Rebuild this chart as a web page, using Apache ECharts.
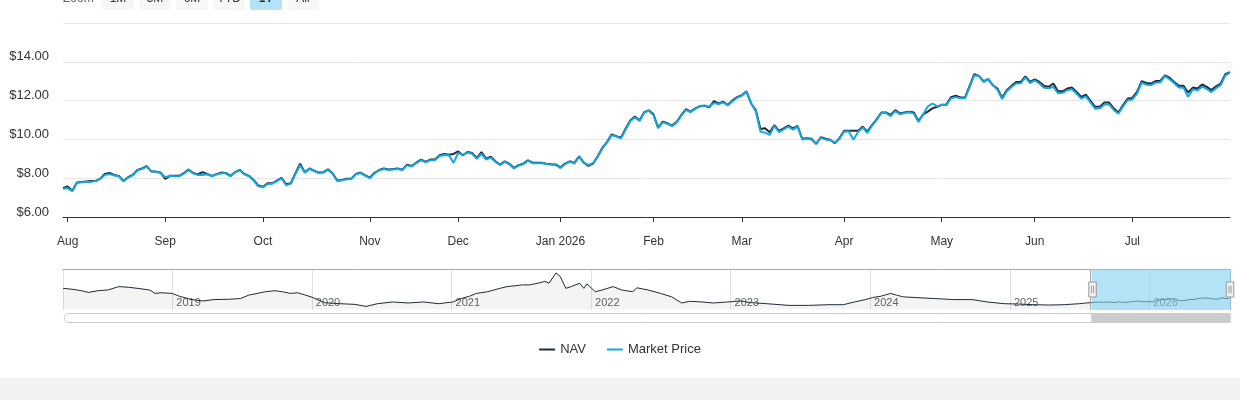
<!DOCTYPE html>
<html>
<head>
<meta charset="utf-8">
<script src="https://cdn.jsdelivr.net/npm/echarts@6.0.0/dist/echarts.min.js"></script>
<style>
html,body{margin:0;padding:0;background:#f2f2f2;}
#chart{width:1240px;height:378px;background:#ffffff;}
</style>
</head>
<body>
<div id="chart"></div>
<script>
// ---------- DATA ----------
const holidays = ['2025-09-01','2025-11-27','2025-12-25','2026-01-01','2026-01-19','2026-02-16','2026-04-03','2026-05-25','2026-06-19','2026-07-03'];
const periodStart = '2025-07-31';
const periodEnd = '2026-07-31';

const navValues = [
7.49,7.57,7.35,7.78,7.81,7.83,7.85,7.85,7.98,8.22,8.27,8.17,8.12,7.86,8.05,8.17,8.43,8.50,8.62,8.34,
8.34,8.29,7.97,8.12,8.12,8.12,8.26,8.44,8.27,8.19,8.31,8.22,8.12,8.21,8.29,8.27,8.12,8.31,8.43,8.22,
8.12,7.91,7.62,7.56,7.74,7.74,7.88,8.02,7.69,7.74,8.26,8.75,8.31,8.50,8.39,8.29,8.31,8.46,8.24,7.88,
7.91,7.97,7.98,8.22,8.29,8.15,8.03,8.28,8.42,8.50,8.45,8.47,8.50,8.44,8.70,8.63,8.80,8.96,8.84,8.96,
8.96,9.18,9.25,9.21,9.25,9.38,9.18,9.35,9.30,9.04,9.35,9.01,9.11,8.87,8.70,8.87,8.75,8.53,8.67,8.75,
8.92,8.80,8.80,8.79,8.75,8.72,8.70,8.56,8.75,8.87,8.79,9.13,8.80,8.63,8.75,9.13,9.56,9.86,10.26,10.17,
10.09,10.55,10.97,11.18,10.97,11.40,11.50,11.29,10.61,10.91,10.83,10.71,10.91,11.26,11.56,11.43,11.60,11.72,11.73,11.65,
11.97,11.85,11.94,11.77,12.01,12.18,12.28,12.48,11.85,11.51,10.54,10.57,10.37,10.74,10.44,10.57,10.71,10.57,10.69,10.03,
10.06,10.03,9.77,10.11,10.03,9.98,9.81,10.06,10.44,10.44,10.44,10.44,10.66,10.40,10.74,11.03,11.39,11.39,11.26,11.51,
11.34,11.39,11.43,11.39,10.95,11.29,11.43,11.60,11.68,11.78,11.80,12.18,12.25,12.16,12.16,12.76,13.36,13.27,13.00,13.10,
12.79,12.62,12.14,12.54,12.76,12.96,12.96,13.25,12.96,13.10,12.96,12.76,12.71,12.88,12.48,12.48,12.62,12.67,12.45,12.19,
12.31,11.99,11.68,11.68,11.90,11.90,11.60,11.38,11.77,12.11,12.14,12.45,13.00,12.91,12.88,13.01,13.01,13.30,13.18,12.96,
12.76,12.76,12.42,12.67,12.62,12.83,12.71,12.54,12.74,12.88,13.36,13.47
];

const priceValues = [
7.45,7.49,7.33,7.76,7.79,7.80,7.81,7.86,7.96,8.17,8.21,8.14,8.10,7.84,8.03,8.15,8.40,8.48,8.60,8.36,
8.33,8.27,8.05,8.13,8.10,8.10,8.24,8.42,8.25,8.17,8.17,8.20,8.10,8.19,8.25,8.25,8.10,8.30,8.41,8.20,
8.10,7.88,7.58,7.53,7.70,7.72,7.85,8.00,7.64,7.72,8.22,8.67,8.28,8.48,8.37,8.26,8.29,8.44,8.22,7.84,
7.89,7.95,7.96,8.20,8.27,8.12,8.00,8.25,8.40,8.47,8.42,8.45,8.47,8.42,8.66,8.60,8.78,8.93,8.82,8.93,
8.93,9.14,9.20,9.18,8.79,9.30,9.20,9.32,9.26,9.00,9.26,8.96,9.06,8.85,8.68,8.84,8.72,8.50,8.65,8.72,
8.90,8.77,8.77,8.77,8.73,8.70,8.68,8.52,8.73,8.85,8.76,9.10,8.80,8.68,8.78,9.10,9.52,9.84,10.22,10.15,
10.05,10.50,10.93,11.14,10.95,11.38,11.48,11.25,10.58,10.88,10.80,10.68,10.88,11.22,11.52,11.40,11.58,11.70,11.75,11.68,
11.88,11.82,11.90,11.75,11.97,12.15,12.25,12.46,11.88,11.45,10.40,10.35,10.23,10.70,10.38,10.52,10.66,10.50,10.66,10.00,
10.03,10.00,9.78,10.08,10.00,9.96,9.84,10.02,10.40,10.42,9.98,10.38,10.62,10.33,10.70,11.00,11.36,11.37,11.20,11.46,
11.30,11.36,11.40,11.33,10.90,11.29,11.70,11.85,11.70,11.78,11.76,12.12,12.18,12.12,12.12,12.70,13.30,13.28,12.95,13.12,
12.80,12.55,12.08,12.48,12.70,12.88,12.90,13.18,12.90,13.04,12.88,12.66,12.64,12.70,12.38,12.40,12.54,12.58,12.36,12.10,
12.22,11.90,11.58,11.60,11.80,11.80,11.52,11.32,11.70,12.02,12.06,12.36,12.92,12.82,12.80,12.92,12.94,13.26,13.10,12.90,
12.68,12.66,12.20,12.58,12.52,12.72,12.60,12.44,12.64,12.80,13.30,13.44
];

// Long history of NAV shown in the navigator (before the 1Y window)
const navHistDates = [
'2018-03-21','2018-04-16','2018-05-08','2018-05-27','2018-06-21','2018-07-16','2018-08-14','2018-09-09','2018-10-01','2018-11-03',
'2018-11-17','2018-12-02','2019-01-01','2019-01-19','2019-02-21','2019-03-22','2019-04-20','2019-05-30','2019-06-28','2019-07-20',
'2019-08-11','2019-09-02','2019-09-27','2019-10-16','2019-11-06','2019-11-25','2019-12-13','2020-01-04','2020-02-03','2020-03-14',
'2020-04-23','2020-05-22','2020-06-21','2020-07-31','2020-09-09','2020-10-19','2020-11-28','2021-01-04','2021-01-26','2021-02-17',
'2021-03-07','2021-04-05','2021-05-08','2021-05-26','2021-06-13','2021-07-05','2021-07-24','2021-08-15','2021-09-02','2021-09-13',
'2021-10-01','2021-10-12','2021-10-27','2021-11-10','2021-12-02','2021-12-13','2021-12-21','2022-01-12','2022-01-30','2022-02-28',
'2022-03-22','2022-04-20','2022-05-01','2022-05-30','2022-07-02','2022-07-31','2022-08-26','2022-09-17','2022-10-19','2022-11-17',
'2022-12-24','2023-01-26','2023-02-24','2023-04-05','2023-06-03','2023-07-24','2023-09-13','2023-10-23','2023-11-21','2023-12-20',
'2024-01-08','2024-01-30','2024-02-24','2024-03-10','2024-03-28','2024-04-27','2024-06-17','2024-08-07','2024-09-24','2024-11-03',
'2024-12-17','2025-01-23','2025-03-04','2025-04-13','2025-05-23','2025-07-02','2025-07-20'
];
const navHistValues = [
24.4,23.2,21.6,19.6,21.6,22.4,26.4,25.6,24.4,22.4,
18.4,19.2,18.4,15.2,11.2,9.6,11.2,11.6,12.4,16.4,
18.4,20.4,21.6,20.4,18.4,19.2,16.8,13.6,7.6,6.4,
5.6,3.2,6.4,8.4,7.2,8.4,6.4,8.4,12.4,15.2,
18.4,20.4,24.4,26.4,27.2,28.4,28.4,30.4,32.4,30.4,
42.4,38.4,24.4,26.4,30.4,24.4,29.6,20.4,22.4,26.4,
22.4,20.4,25.0,22.4,18.4,14.4,7.2,9.2,8.4,7.2,
8.4,9.6,7.6,6.4,4.4,4.4,5.2,5.2,8.4,11.2,
13.6,15.2,18.4,16.4,14.4,13.6,12.4,11.2,11.2,8.4,
6.4,6.0,5.2,4.8,5.2,6.4,7.2
];

const yTicks = [6, 8, 10, 12, 14, 16];
const monthNames = ['Jan','Feb','Mar','Apr','May','Jun','Jul','Aug','Sep','Oct','Nov','Dec'];
const rangeButtons = ['1M','3M','6M','YTD','1Y','All'];
const selectedRange = '1Y';
const seriesNames = ['NAV', 'Market Price'];

// ---------- HELPERS ----------
function tradingDays(startStr, endStr, hol) {
  const out = [];
  const d = new Date(startStr + 'T00:00:00Z');
  const end = new Date(endStr + 'T00:00:00Z');
  while (d <= end) {
    const wd = d.getUTCDay();
    const s = d.toISOString().slice(0, 10);
    if (wd !== 0 && wd !== 6 && hol.indexOf(s) < 0) out.push(s);
    d.setUTCDate(d.getUTCDate() + 1);
  }
  return out;
}
const dates = tradingDays(periodStart, periodEnd, holidays);
function ts(s) { return new Date(s + 'T00:00:00').getTime(); }
function isMonthStart(i) {
  return i > 0 && !!dates[i] && !!dates[i - 1] && dates[i].slice(0, 7) !== dates[i - 1].slice(0, 7);
}

const navStart = navHistDates[0];
const navEnd = dates[dates.length - 1];
const selStart = dates[0];

const navigatorData = navHistDates.map((d, i) => [ts(d), navHistValues[i]])
  .concat(dates.map((d, i) => [ts(d), navValues[i]]));

const FONT = "'Liberation Sans', Arial, Helvetica, sans-serif";
const NAV_COLOR = '#1f2b37';
const PRICE_COLOR = '#16a6e2';
const SEL_FILL = 'rgba(128,208,240,0.6)';

// range selector (UI chrome, not data)
const graphics = [{
  type: 'text', x: 63, y: -1,
  style: { text: 'Zoom', fill: '#666', font: '12px ' + FONT, verticalAlign: 'middle', textAlign: 'left' }
}];
rangeButtons.forEach((b, k) => {
  const sel = b === selectedRange;
  graphics.push({
    type: 'group', x: 102 + k * 37, y: -12,
    children: [
      { type: 'rect', shape: { x: 0, y: 0, width: 32, height: 22, r: 2 },
        style: { fill: sel ? '#b3e3f6' : '#f7f7f7' } },
      { type: 'text', x: 16, y: 11,
        style: { text: b, fill: '#333', font: (sel ? 'bold ' : '') + '12px ' + FONT,
                 textAlign: 'center', verticalAlign: 'middle' } }
    ]
  });
});

const chart = echarts.init(document.getElementById('chart'), null, { renderer: 'canvas' });

const option = {
  animation: false,
  backgroundColor: '#ffffff',
  textStyle: { fontFamily: FONT },
  graphic: graphics,
  legend: {
    data: seriesNames,
    top: 338,
    left: 'center',
    icon: 'rect',
    itemWidth: 16,
    itemHeight: 2,
    itemGap: 21,
    textStyle: { fontSize: 13, color: '#333', fontFamily: FONT },
    selectedMode: false
  },
  grid: [
    { left: 63, top: 23, width: 1167, height: 194, outerBoundsMode: 'none', containLabel: false },
    { left: 63, top: 269, width: 1167, height: 41, outerBoundsMode: 'none', containLabel: false },
    { left: 63, top: 269, width: 1167, height: 41, outerBoundsMode: 'none', containLabel: false }
  ],
  xAxis: [
    {
      type: 'category', gridIndex: 0, data: dates, boundaryGap: false,
      axisLine: { show: true, lineStyle: { color: '#333', width: 1 } },
      axisTick: { show: true, length: 5, interval: (i) => isMonthStart(i), lineStyle: { color: '#333' } },
      axisLabel: {
        interval: (i) => isMonthStart(i),
        margin: 19, color: '#333', fontSize: 12, fontFamily: FONT,
        hideOverlap: false,
        formatter: (v) => {
          const m = parseInt(v.slice(5, 7), 10) - 1;
          return m === 0 ? 'Jan ' + v.slice(0, 4) : monthNames[m];
        }
      },
      splitLine: { show: false }
    },
    {
      type: 'time', gridIndex: 1, min: ts(navStart), max: ts(navEnd),
      minInterval: 365 * 86400000, maxInterval: 366 * 86400000,
      axisLine: { show: false }, axisTick: { show: false },
      splitLine: { show: true, lineStyle: { color: '#e2e2e2', width: 1 } },
      axisLabel: {
        inside: true, margin: 2, align: 'left', padding: [0, 0, 0, 4],
        color: '#666', fontSize: 11, fontFamily: FONT,
        textBorderColor: '#ffffff', textBorderWidth: 2,
        formatter: (val) => {
          const d = new Date(val);
          return (d.getMonth() === 0 && d.getDate() === 1) ? String(d.getFullYear()) : '';
        }
      }
    },
    {
      type: 'time', gridIndex: 2, min: ts(navStart), max: ts(navEnd), show: false
    },
    {
      type: 'value', gridIndex: 1, position: 'top', min: 0, max: 1,
      axisLine: { show: true, lineStyle: { color: '#a8a8a8', width: 1 } },
      axisTick: { show: false }, axisLabel: { show: false }, splitLine: { show: false }
    }
  ],
  yAxis: [
    {
      type: 'value', gridIndex: 0, min: 6, max: 16, interval: 2,
      axisLine: { show: false }, axisTick: { show: false },
      splitLine: { show: true, lineStyle: { color: '#e6e6e6', width: 1 } },
      axisLabel: {
        margin: 14, color: '#333', fontSize: 13, fontFamily: FONT,
        verticalAlign: 'bottom', lineHeight: 10,
        formatter: (v) => (v >= 16 ? '' : '$' + v.toFixed(2))
      }
    },
    { type: 'value', gridIndex: 1, min: -1, max: 47, show: false, splitLine: { show: false } },
    { type: 'value', gridIndex: 2, min: 0, max: 1, show: false, splitLine: { show: false } }
  ],
  dataZoom: [
    {
      type: 'slider', xAxisIndex: 2, filterMode: 'none',
      startValue: ts(selStart), endValue: ts(navEnd),
      left: 63, top: 269, width: 1167, height: 41,
      backgroundColor: 'rgba(0,0,0,0)', borderColor: 'rgba(0,0,0,0)',
      fillerColor: SEL_FILL,
      showDataShadow: false, showDetail: false, brushSelect: false,
      moveHandleSize: 0, zoomLock: true,
      handleIcon: 'path://M0.5,0.5 L7.5,0.5 L7.5,14.5 L0.5,14.5 Z M3,4 L3,11 M5,4 L5,11',
      handleSize: 15,
      handleStyle: { color: '#f2f2f2', borderColor: '#999999', borderWidth: 1 },
      emphasis: { handleStyle: { color: '#f2f2f2', borderColor: '#999999', borderWidth: 1 } },
      z: 6
    },
    {
      type: 'slider', xAxisIndex: 2, filterMode: 'none',
      startValue: ts(selStart), endValue: ts(navEnd),
      left: 63, top: 313, width: 1167, height: 10,
      backgroundColor: '#ffffff', borderColor: '#cccccc', borderRadius: 5,
      fillerColor: '#cccccc',
      showDataShadow: false, showDetail: false, brushSelect: false,
      moveHandleSize: 0, zoomLock: true,
      handleSize: 0,
      handleStyle: { opacity: 0 },
      z: 6
    }
  ],
  series: [
    {
      name: 'NAV', type: 'line', xAxisIndex: 0, yAxisIndex: 0,
      data: navValues, showSymbol: false, symbol: 'none',
      lineStyle: { color: NAV_COLOR, width: 2 }, itemStyle: { color: NAV_COLOR },
      z: 2
    },
    {
      name: 'Market Price', type: 'line', xAxisIndex: 0, yAxisIndex: 0,
      data: priceValues, showSymbol: false, symbol: 'none',
      lineStyle: { color: PRICE_COLOR, width: 2 }, itemStyle: { color: PRICE_COLOR },
      z: 3
    },
    {
      name: 'navigator', type: 'line', xAxisIndex: 1, yAxisIndex: 1,
      data: navigatorData, showSymbol: false, symbol: 'none', silent: true,
      lineStyle: { color: NAV_COLOR, width: 1 },
      areaStyle: { color: NAV_COLOR, opacity: 0.05 },
      markLine: {
        silent: true, symbol: 'none', label: { show: false },
        lineStyle: { color: '#a8a8a8', width: 1, type: 'solid' },
        data: [{ xAxis: ts(selStart) }, { xAxis: ts(navEnd) }]
      },
      z: 2
    },
    {
      name: '_zoomAnchor', type: 'line', xAxisIndex: 2, yAxisIndex: 2,
      data: [[ts(navStart), 0], [ts(navEnd), 0]],
      showSymbol: false, symbol: 'none', silent: true,
      lineStyle: { opacity: 0 }, z: 0
    }
  ]
};
chart.setOption(option);
</script>
</body>
</html>
